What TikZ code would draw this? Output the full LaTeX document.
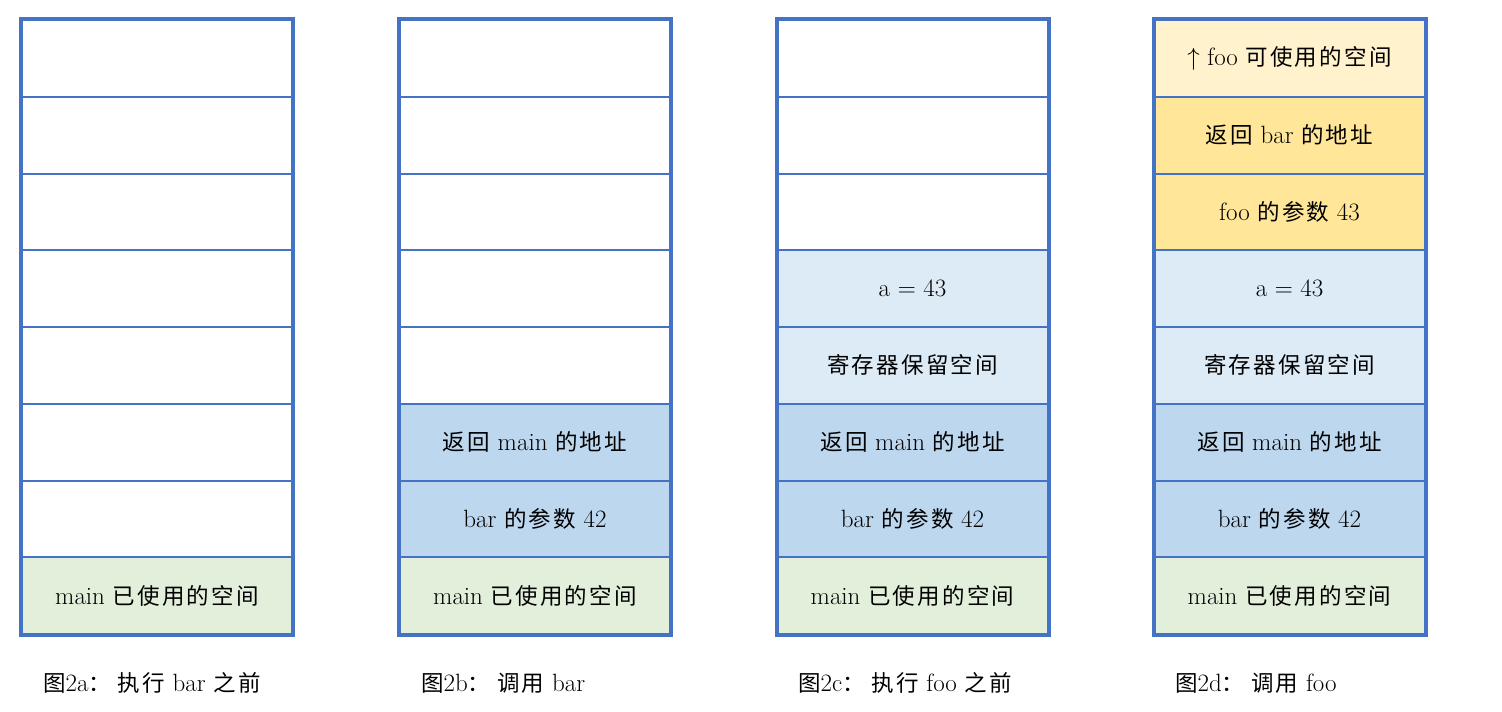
\documentclass[tikz,border=0pt]{standalone}
\usepackage{fontspec}
\newfontfamily\cjk[LetterSpace=10]{Noto Sans CJK SC}
\definecolor{bord}{HTML}{4472C4}
\definecolor{cgreen}{HTML}{E2EFDA}
\definecolor{cblue}{HTML}{BDD7EE}
\definecolor{clblue}{HTML}{DDEBF7}
\definecolor{cgold}{HTML}{FFE699}
\definecolor{cyel}{HTML}{FFF2CC}
\tikzset{
  cell/.style={draw=bord, line width=2pt, fill=white, inner sep=0pt,
    minimum width=270pt, minimum height=76.75pt, font=\fontsize{25}{29}\selectfont},
  outerbox/.style={draw=bord, line width=4pt},
  caption/.style={anchor=west, inner sep=0pt, font=\fontsize{25}{29}\selectfont}
}
\newcommand{\C}[1]{{\cjk\fontsize{22.5}{26}\selectfont #1}}
\begin{document}
\begin{tikzpicture}[x=1pt,y=-1pt]
\useasboundingbox (0,0) rectangle (1502,712);
\def\rowy#1{20+76.75*(#1-0.5)}
% Stack a
\foreach \r in {1,...,7}{\node[cell] (a\r) at (157, {\rowy{\r}}) {};}
\node[cell, fill=cgreen] (a8) at (157, {\rowy{8}}) {main \C{已使用的空间}};
\draw[outerbox] (a1.north west) rectangle (a8.south east);
\node[caption] (capa) at (43,683) {\C{图}2a\C{：\hspace{0.3em}执行} bar \C{之前}};
% Stack b
\foreach \r in {1,...,5}{\node[cell] (b\r) at (535, {\rowy{\r}}) {};}
\node[cell, fill=cblue] (b6) at (535, {\rowy{6}}) {\C{返回} main \C{的地址}};
\node[cell, fill=cblue] (b7) at (535, {\rowy{7}}) {bar \C{的参数} 42};
\node[cell, fill=cgreen] (b8) at (535, {\rowy{8}}) {main \C{已使用的空间}};
\draw[outerbox] (b1.north west) rectangle (b8.south east);
\node[caption] (capb) at (421,683) {\C{图}2b\C{：\hspace{0.3em}调用} bar};
% Stack c
\foreach \r in {1,...,3}{\node[cell] (c\r) at (912.5, {\rowy{\r}}) {};}
\node[cell, fill=clblue] (c4) at (912.5, {\rowy{4}}) {a = 43};
\node[cell, fill=clblue] (c5) at (912.5, {\rowy{5}}) {\C{寄存器保留空间}};
\node[cell, fill=cblue] (c6) at (912.5, {\rowy{6}}) {\C{返回} main \C{的地址}};
\node[cell, fill=cblue] (c7) at (912.5, {\rowy{7}}) {bar \C{的参数} 42};
\node[cell, fill=cgreen] (c8) at (912.5, {\rowy{8}}) {main \C{已使用的空间}};
\draw[outerbox] (c1.north west) rectangle (c8.south east);
\node[caption] (capc) at (798,683) {\C{图}2c\C{：\hspace{0.3em}执行} foo \C{之前}};
% Stack d
\node[cell, fill=cyel] (d1) at (1289.5, {\rowy{1}}) {$\uparrow$ foo \C{可使用的空间}};
\node[cell, fill=cgold] (d2) at (1289.5, {\rowy{2}}) {\C{返回} bar \C{的地址}};
\node[cell, fill=cgold] (d3) at (1289.5, {\rowy{3}}) {foo \C{的参数} 43};
\node[cell, fill=clblue] (d4) at (1289.5, {\rowy{4}}) {a = 43};
\node[cell, fill=clblue] (d5) at (1289.5, {\rowy{5}}) {\C{寄存器保留空间}};
\node[cell, fill=cblue] (d6) at (1289.5, {\rowy{6}}) {\C{返回} main \C{的地址}};
\node[cell, fill=cblue] (d7) at (1289.5, {\rowy{7}}) {bar \C{的参数} 42};
\node[cell, fill=cgreen] (d8) at (1289.5, {\rowy{8}}) {main \C{已使用的空间}};
\draw[outerbox] (d1.north west) rectangle (d8.south east);
\node[caption] (capd) at (1175,683) {\C{图}2d\C{：\hspace{0.3em}调用} foo};
\end{tikzpicture}
\end{document}
